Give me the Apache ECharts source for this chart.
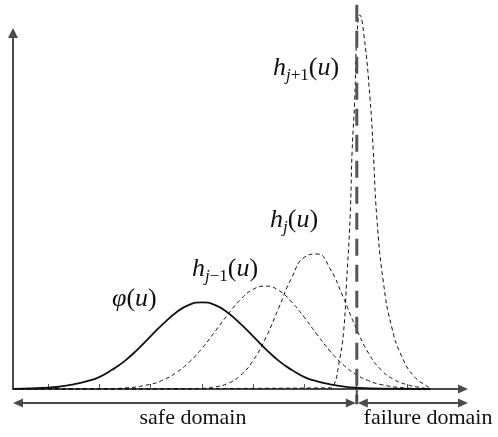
<!DOCTYPE html>
<html>
<head>
<meta charset="utf-8">
<script src="https://cdn.jsdelivr.net/npm/echarts@6/dist/echarts.min.js"></script>
<style>
  html, body { margin: 0; padding: 0; background: #fff; }
  #chart { width: 498px; height: 437px; }
</style>
</head>
<body>
<div id="chart"></div>
<script>
// u axis range and tick positions
var xMin = -0.68, xMax = 8.09;
var yMax = 98.6;
var tickValues = [0, 1, 2, 3, 4, 5, 6, 7];
var threshold = 6.02;
var thresholdSpan = [106.4, -4.2];

// phi(u) - solid curve
var phiU = [-0.68, 0, 0.25, 0.5, 0.75, 1, 1.25, 1.5, 1.75, 2, 2.25, 2.5, 2.75, 3, 3.25, 3.5, 3.75, 4, 4.25, 4.5, 4.75, 5, 5.25, 5.5, 5.75, 6, 6.5, 7.45];
var phiV = [0, 0.35, 0.7, 1.3, 2.1, 3.3, 5.3, 7.8, 11.0, 14.6, 18.1, 21.2, 23.3, 24, 23.3, 21.2, 18.1, 14.6, 11.0, 7.8, 5.3, 3.3, 2.1, 1.3, 0.7, 0.35, 0.08, 0];

// h_{j-1}(u)
var hPrevU = [-0.68, 1.0, 1.5, 2.0, 2.25, 2.5, 2.75, 3.0, 3.25, 3.5, 3.75, 4.0, 4.25, 4.5, 4.75, 5.0, 5.25, 5.5, 5.75, 6.0, 6.25, 6.5, 7.0, 7.45];
var hPrevV = [0, 0.05, 0.29, 1.32, 2.53, 4.5, 7.4, 11.2, 15.8, 20.5, 24.7, 27.6, 28.5, 27.3, 24.1, 19.8, 15.0, 10.5, 6.8, 4.1, 2.3, 1.2, 0.25, 0];

// h_j(u)
var hCurU = [-0.68, 2.5, 3.0, 3.25, 3.5, 3.75, 4.0, 4.25, 4.5, 4.75, 5.0, 5.25, 5.5, 5.75, 6.0, 6.25, 6.5, 6.75, 7.0, 7.25, 7.45];
var hCurV = [0, 0.02, 0.17, 0.55, 1.5, 3.7, 7.9, 14.3, 22.5, 30.8, 36.5, 37.4, 33.3, 25.6, 17.1, 9.9, 5.2, 2.6, 1.2, 0.45, 0];

// h_{j+1}(u)
var hNextU = [-0.68, 5.5, 5.59, 5.66, 5.76, 5.82, 5.89, 5.93, 5.98, 6.02, 6.08, 6.16, 6.28, 6.34, 6.41, 6.54, 6.7, 6.9, 7.15, 7.41, 7.45];
var hNextV = [0, 0.3, 1.7, 6.1, 15.5, 29.4, 47.6, 66.2, 80.1, 97, 103.6, 98, 80.1, 66.2, 47.6, 29.4, 17.2, 8.9, 3.3, 0.55, 0];

var serif = "'Liberation Serif', 'Times New Roman', serif";

function pairs(us, vs) {
  var out = [];
  for (var i = 0; i < us.length; i++) out.push([us[i], vs[i]]);
  return out;
}

function curve(name, us, vs, solid) {
  return {
    name: name,
    type: 'line',
    data: pairs(us, vs),
    smooth: true,
    symbol: 'none',
    clip: false,
    lineStyle: {
      color: '#111',
      width: solid ? 1.8 : 1,
      type: solid ? 'solid' : [4, 3]
    },
    z: 3
  };
}

// main glyphs sit at the top of the line, subscripts pushed down with padding
var rich = {
  i: { fontFamily: serif, fontStyle: 'italic', fontSize: 26, verticalAlign: 'top', fill: '#111' },
  r: { fontFamily: serif, fontSize: 26, verticalAlign: 'top', fill: '#111' },
  s: { fontFamily: serif, fontStyle: 'italic', fontSize: 17, verticalAlign: 'top', padding: [12, 0, 0, 0], fill: '#111' },
  sr: { fontFamily: serif, fontSize: 17, verticalAlign: 'top', padding: [12, 0, 0, 0], fill: '#111' }
};

function mathLabel(text, x, y) {
  return { type: 'text', x: x, y: y, silent: true, z: 10,
    style: { text: text, rich: rich, align: 'left', verticalAlign: 'top', fill: '#111' } };
}

var chart = echarts.init(document.getElementById('chart'));

var option = {
  animation: false,
  backgroundColor: '#fff',
  grid: { left: 13, right: 35, top: 33, bottom: 48 },
  xAxis: {
    type: 'value',
    min: xMin,
    max: xMax,
    axisLine: {
      show: true,
      onZero: false,
      symbol: ['none', 'triangle'],
      symbolSize: [9, 10],
      lineStyle: { color: '#4a4a4a', width: 2 }
    },
    axisTick: { show: true, inside: true, length: 5, customValues: tickValues, lineStyle: { color: '#555', width: 1 } },
    axisLabel: { show: false },
    splitLine: { show: false }
  },
  yAxis: {
    type: 'value',
    min: 0,
    max: yMax,
    axisLine: {
      show: true,
      onZero: false,
      symbol: ['none', 'triangle'],
      symbolSize: [10, 10],
      lineStyle: { color: '#4a4a4a', width: 2 }
    },
    axisTick: { show: false },
    axisLabel: { show: false },
    splitLine: { show: false }
  },
  series: [
    curve('phi', phiU, phiV, true),
    curve('h_j-1', hPrevU, hPrevV, false),
    curve('h_j', hCurU, hCurV, false),
    curve('h_j+1', hNextU, hNextV, false),
    {
      name: 'limit',
      type: 'line',
      data: [[threshold, thresholdSpan[0]], [threshold, thresholdSpan[1]]],
      symbol: 'none',
      clip: false,
      lineStyle: { color: '#555', width: 3, type: [17, 9] },
      z: 4
    }
  ]
};
chart.setOption(option);

// domain arrows under the axis, placed from the axis scale
var pStart = chart.convertToPixel({ gridIndex: 0 }, [xMin, 0]);
var pLimit = chart.convertToPixel({ gridIndex: 0 }, [threshold, 0]);
var pEnd = chart.convertToPixel({ gridIndex: 0 }, [xMax, 0]);
var ay = pStart[1] + 14;
var gray = '#4a4a4a';

function head(tipX, y, dir) {
  return { type: 'polygon', silent: true, z: 5,
    shape: { points: [[tipX, y], [tipX - dir * 10, y - 4.5], [tipX - dir * 10, y + 4.5]] },
    style: { fill: gray } };
}
function seg(x1, y1, x2, y2) {
  return { type: 'line', silent: true, z: 5,
    shape: { x1: x1, y1: y1, x2: x2, y2: y2 },
    style: { stroke: gray, lineWidth: 2 } };
}

var x0 = pStart[0], xl = pLimit[0], xe = pEnd[0] + 5;

chart.setOption({
  graphic: [
    seg(x0 + 5, ay, xl - 6, ay),
    head(x0, ay, -1),
    head(xl - 1, ay, 1),
    seg(xl + 6, ay, xe - 5, ay),
    head(xl + 1, ay, -1),
    head(xe, ay, 1),
    seg(xl, pLimit[1], xl, ay + 1),
    { type: 'text', silent: true, x: 193, y: 418,
      style: { text: 'safe domain', font: '22px ' + serif, fill: '#111', align: 'center', verticalAlign: 'middle' } },
    { type: 'text', silent: true, x: 428, y: 418,
      style: { text: 'failure domain', font: '22px ' + serif, fill: '#111', align: 'center', verticalAlign: 'middle' } },
    mathLabel('{i|φ}{r|(}{i|u}{r|)}', 112, 286),
    mathLabel('{i|h}{s|j}{sr|−1}{r|(}{i|u}{r|)}', 192, 256),
    mathLabel('{i|h}{s|j}{r|(}{i|u}{r|)}', 270, 207),
    mathLabel('{i|h}{s|j}{sr|+1}{r|(}{i|u}{r|)}', 273, 55)
  ]
});
</script>
</body>
</html>
